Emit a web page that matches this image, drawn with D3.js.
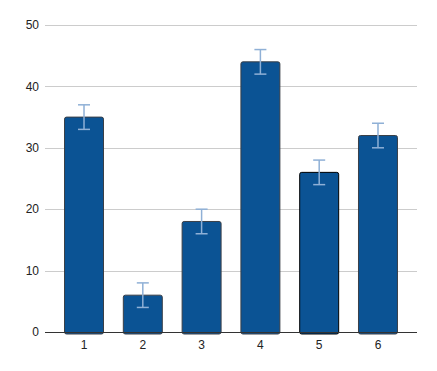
<!DOCTYPE html>
<html>
<head>
<meta charset="utf-8">
<script src="https://cdn.jsdelivr.net/npm/d3@7"></script>
<style>
  body { margin: 0; background: #fff; }
  text { font-family: "Liberation Sans", Arial, sans-serif; }
</style>
</head>
<body>
<div id="app"></div>
<script>
// chart data
const categories = ['1', '2', '3', '4', '5', '6'];
const values = [35, 6, 18, 44, 26, 32];
const errors = [2, 2, 2, 2, 2, 2];
const yTicks = [0, 10, 20, 30, 40, 50];

const W = 437, H = 371;
const margin = { top: 25, right: 20, bottom: 39, left: 45 };
const width = W - margin.left - margin.right;
const height = H - margin.top - margin.bottom;

const svg = d3.select('#app').append('svg')
  .attr('width', W)
  .attr('height', H)
  .append('g')
  .attr('transform', `translate(${margin.left}, ${margin.top})`);

const x = d3.scaleBand()
  .domain(categories)
  .range([0, width])
  .paddingInner(0.337)
  .paddingOuter(0.332);

const y = d3.scaleLinear()
  .domain([0, 50])
  .range([height, 0]);

// gridlines
svg.selectAll('.grid')
  .data(yTicks.filter(d => d > 0))
  .enter().append('line')
  .attr('x1', 0).attr('x2', width)
  .attr('y1', d => Math.round(y(d)) + 0.5)
  .attr('y2', d => Math.round(y(d)) + 0.5)
  .attr('stroke', '#cccccc')
  .attr('stroke-width', 1);

// y labels
svg.selectAll('.ylab')
  .data(yTicks)
  .enter().append('text')
  .attr('x', -6)
  .attr('y', d => y(d))
  .attr('dy', '0.35em')
  .attr('text-anchor', 'end')
  .attr('font-size', 12)
  .attr('fill', '#222')
  .text(d => d);

// bars
svg.selectAll('.bar')
  .data(values)
  .enter().append('rect')
  .attr('x', (d, i) => x(categories[i]))
  .attr('y', d => y(d))
  .attr('width', x.bandwidth())
  .attr('height', d => height - y(d) + 2)
  .attr('rx', 2)
  .attr('fill', '#0b5394')
  .attr('stroke', (d, i) => i === 4 ? '#000' : '#3a3f47')
  .attr('stroke-width', 1);

// error bars
const eb = svg.selectAll('.err')
  .data(values)
  .enter().append('g')
  .attr('stroke', '#8fb0d6')
  .attr('stroke-width', 1.5);
const cx = i => x(categories[i]) + x.bandwidth() / 2;
eb.append('line')
  .attr('x1', (d, i) => cx(i)).attr('x2', (d, i) => cx(i))
  .attr('y1', (d, i) => y(d + errors[i])).attr('y2', (d, i) => y(d - errors[i]));
eb.append('line')
  .attr('x1', (d, i) => cx(i) - 6).attr('x2', (d, i) => cx(i) + 6)
  .attr('y1', (d, i) => y(d + errors[i])).attr('y2', (d, i) => y(d + errors[i]));
eb.append('line')
  .attr('x1', (d, i) => cx(i) - 6).attr('x2', (d, i) => cx(i) + 6)
  .attr('y1', (d, i) => y(d - errors[i])).attr('y2', (d, i) => y(d - errors[i]));

// baseline axis
svg.append('line')
  .attr('x1', 0).attr('x2', width)
  .attr('y1', height + 0.5).attr('y2', height + 0.5)
  .attr('stroke', '#333')
  .attr('stroke-width', 1.2);

// x labels
svg.selectAll('.xlab')
  .data(categories)
  .enter().append('text')
  .attr('x', d => x(d) + x.bandwidth() / 2)
  .attr('y', height + 17)
  .attr('text-anchor', 'middle')
  .attr('font-size', 12)
  .attr('fill', '#222')
  .text(d => d);
</script>
</body>
</html>
